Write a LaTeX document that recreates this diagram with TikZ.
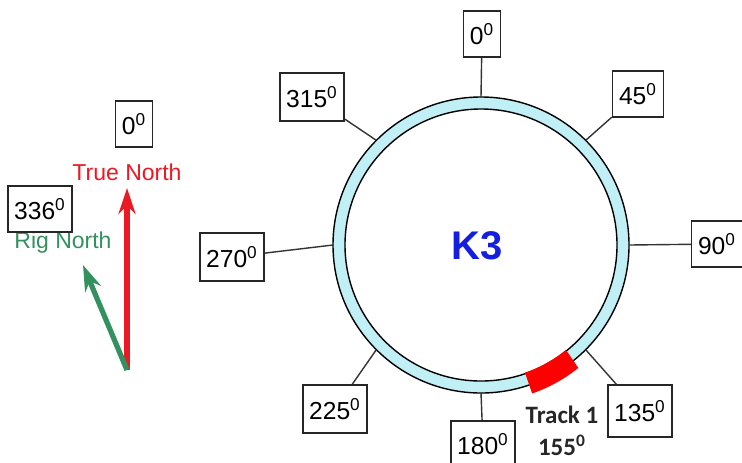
\documentclass[tikz,border=0pt]{standalone}
\usepackage{fontspec}
\setmainfont{Liberation Sans}
\newfontfamily\trackfont{Carlito}
\usetikzlibrary{arrows.meta}
\definecolor{ringfill}{RGB}{192,240,245}
\definecolor{truered}{RGB}{235,25,35}
\definecolor{riggreen}{RGB}{50,145,95}
\definecolor{kblue}{RGB}{20,30,225}
\newcommand{\degfont}{\fontsize{12.3}{14}\selectfont}
\newcommand{\dg}[1]{#1\textsuperscript{0}}

\begin{document}
\begin{tikzpicture}[x=0.5pt,y=-0.5pt,
  degbox/.style={draw=black!85,line width=0.8pt,fill=white,inner xsep=3.2pt,inner ysep=0pt,
                 minimum height=23pt,font=\degfont},
  spoke/.style={draw=black!80,line width=0.7pt},
  northarr/.style={line width=2.6pt,-{Stealth[length=13pt,width=8.5pt]}},
  northlbl/.style={font=\fontsize{11.5}{13}\selectfont}
]
\useasboundingbox (0,0) rectangle (742,462);

% compass ring
\coordinate (c) at (481,245);
\fill[ringfill,even odd rule] (c) circle[radius=148] (c) circle[radius=136];
\draw[line width=0.7pt] (c) circle[radius=148] (c) circle[radius=136];
\node[font=\bfseries\fontsize{20}{24}\selectfont,text=kblue] (k3) at (477,246) {K3};

\begin{scope}[shift={(c)}]
  \foreach \b in {0,45,...,315}
    \coordinate (r\b) at (\b-90:148);
  % track 1 block
  \fill[red] (51:135) arc[start angle=51,end angle=71,radius=135]
    -- (71:157) arc[start angle=71,end angle=51,radius=152] -- cycle;
\end{scope}

% bearing boxes
\node[degbox] (b0) at (482,34) {\dg{0}};
\node[degbox] (b45) at (638,94) {\dg{45}};
\node[degbox] (b90) at (717,244) {\dg{90}};
\node[degbox,minimum height=26pt] (b135) at (640,411) {\dg{135}};
\node[degbox] (b180) at (483,444) {\dg{180}};
\node[degbox,minimum height=24pt] (b225) at (335,409) {\dg{225}};
\node[degbox,minimum height=24pt] (b270) at (232,257) {\dg{270}};
\node[degbox,minimum height=24pt] (b315) at (312,97) {\dg{315}};
\foreach \b in {0,45,...,315}
  \draw[spoke] (r\b) -- (b\b);

\node[font=\trackfont\bfseries\fontsize{12.5}{16}\selectfont,text=black!85,align=center]
  (trk) at (562,431) {Track 1\\\dg{155}};

% north arrows
\coordinate (base) at (127,370);
\coordinate (tn) at (127,188);
\coordinate (rn) at (83,265);
\draw[northarr,truered] (base) -- (tn);
\draw[northarr,riggreen] (base) -- (rn);
\node[northlbl,text=truered] (tnl) at (127,172) {True North};
\node[northlbl,text=riggreen] (rnl) at (63,243) {Rig North};
\node[degbox] (bt) at (134,124) {\dg{0}};
\node[degbox] (br) at (40,209) {\dg{336}};
\end{tikzpicture}
\end{document}
